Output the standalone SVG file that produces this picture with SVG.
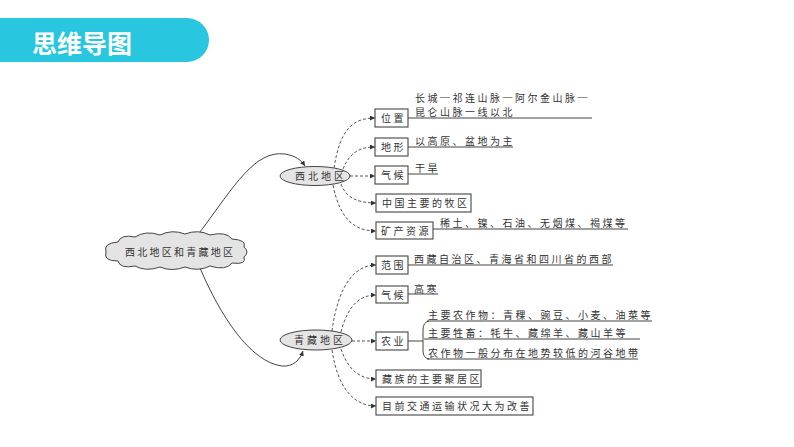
<svg xmlns="http://www.w3.org/2000/svg" width="794" height="447" viewBox="0 0 794 447">
<defs>
<style>
.t{font-family:"Noto Sans CJK SC","Noto Sans CJK TC",sans-serif;font-size:10px;fill:#333;letter-spacing:2.5px}
.box{fill:#fff;stroke:#444;stroke-width:1.1}
.ul{stroke:#444;stroke-width:1;fill:none}
.dash{stroke:#444;stroke-width:0.9;fill:none;stroke-dasharray:3 2;marker-end:url(#ah)}
.main{stroke:#444;stroke-width:1;fill:none;marker-end:url(#ah)}
.gray{fill:#e4e4e4;stroke:#444;stroke-width:1}
</style>
<marker id="ah" markerWidth="5" markerHeight="5" refX="5" refY="2.5" orient="auto" markerUnits="userSpaceOnUse">
<path d="M0,0 L5,2.5 L0,5 z" fill="#333"/>
</marker>
</defs>
<rect width="794" height="447" fill="#fff"/>
<g id="header">
<path d="M0,18 H187 A22,22 0 0 1 187,62 H0 Z" fill="#29C6E0"/>
<text x="32" y="53" font-family="'Noto Sans CJK SC',sans-serif" font-size="25" font-weight="bold" fill="#fff">思维导图</text>
</g>
<g id="connectors">
<path class="main" d="M200,232 C235,185 255,150 285,154 C296,156 301,160 305,166"/>
<path class="main" d="M200,268 C220,315 250,362 282,366 C293,367 300,360 303,351"/>
<path class="dash" d="M334,168 C340,130 352,118 375,118"/>
<path class="dash" d="M343,169 C350,152 360,147 375,147"/>
<path class="dash" d="M350,176 L375,176"/>
<path class="dash" d="M341,184 C346,198 358,203 376,203"/>
<path class="dash" d="M333,185 C340,220 355,231 376,231"/>
<path class="dash" d="M332,331 C338,285 355,265 376,265"/>
<path class="dash" d="M341,332 C348,305 360,295 376,295"/>
<path class="dash" d="M352,341 L376,341"/>
<path class="dash" d="M341,349 C348,370 360,379 376,379"/>
<path class="dash" d="M332,350 C338,390 355,406 376,406"/>
</g>
<g id="root">
<path class="gray" d="M106,252 Q103,243 118,242 Q121,234 135,237 Q146,230 160,235 Q172,229 185,234 Q198,229 210,235 Q226,231 232,239 Q247,240 244,247 Q250,252 244,257 Q247,265 232,263 Q226,271 210,266 Q198,272 185,267 Q172,272 160,267 Q146,272 135,266 Q120,269 118,261 Q103,261 106,252 Z"/>
<text class="t" x="125" y="256" style="letter-spacing:2.25px">西北地区和青藏地区</text>
</g>
<g id="xibei">
<ellipse class="gray" cx="315" cy="176" rx="35" ry="9.5"/>
<text class="t" x="295" y="180" style="letter-spacing:3px">西北地区</text>
</g>
<g id="qingzang">
<ellipse class="gray" cx="316" cy="340" rx="36" ry="10"/>
<text class="t" x="294" y="344" style="letter-spacing:3px">青藏地区</text>
</g>
<g id="weizhi">
<rect class="box" x="375" y="109" width="33" height="18"/>
<text class="t" x="381" y="122">位置</text>
<line class="ul" x1="408" y1="118" x2="592" y2="118"/>
<text class="t" x="415" y="101.5">长城─祁连山脉─阿尔金山脉─</text>
<text class="t" x="415" y="116">昆仑山脉一线以北</text>
</g>
<g id="dixing">
<rect class="box" x="375" y="138" width="33" height="18"/>
<text class="t" x="381" y="151">地形</text>
<line class="ul" x1="408" y1="147" x2="513" y2="147"/>
<text class="t" x="415" y="145">以高原、盆地为主</text>
</g>
<g id="qihou1">
<rect class="box" x="375" y="166" width="33" height="18"/>
<text class="t" x="381" y="179">气候</text>
<line class="ul" x1="408" y1="174" x2="438" y2="174"/>
<text class="t" x="415" y="172">干旱</text>
</g>
<g id="muqu">
<rect class="box" x="376" y="194" width="95" height="18"/>
<text class="t" x="382" y="207">中国主要的牧区</text>
</g>
<g id="kuangchan">
<rect class="box" x="376" y="222" width="57" height="17"/>
<text class="t" x="381" y="234.5">矿产资源</text>
<line class="ul" x1="433" y1="229" x2="628" y2="229"/>
<text class="t" x="440" y="227">稀土、镍、石油、无烟煤、褐煤等</text>
</g>
<g id="fanwei">
<rect class="box" x="376" y="256" width="32" height="18"/>
<text class="t" x="381" y="269">范围</text>
<line class="ul" x1="408" y1="265" x2="613" y2="265"/>
<text class="t" x="414" y="263">西藏自治区、青海省和四川省的西部</text>
</g>
<g id="qihou2">
<rect class="box" x="376" y="286" width="32" height="17"/>
<text class="t" x="381" y="298.5">气候</text>
<line class="ul" x1="408" y1="294" x2="438" y2="294"/>
<text class="t" x="414" y="292.5">高寒</text>
</g>
<g id="nongye">
<rect class="box" x="376" y="332" width="32" height="18"/>
<text class="t" x="381" y="345">农业</text>
<line class="ul" x1="408" y1="341" x2="423" y2="341"/>
<path class="ul" d="M429,321 Q423,322 423,330 V351 Q423,358 429,359"/>
<line class="ul" x1="427" y1="321" x2="652" y2="321"/>
<line class="ul" x1="424" y1="339" x2="640" y2="339"/>
<line class="ul" x1="427" y1="359" x2="638" y2="359"/>
<text class="t" x="428" y="318.5">主要农作物：青稞、豌豆、小麦、油菜等</text>
<text class="t" x="428" y="337">主要牲畜：牦牛、藏绵羊、藏山羊等</text>
<text class="t" x="428" y="357">农作物一般分布在地势较低的河谷地带</text>
</g>
<g id="zangzu">
<rect class="box" x="376" y="370" width="105" height="17"/>
<text class="t" x="382" y="382.5">藏族的主要聚居区</text>
</g>
<g id="jiaotong">
<rect class="box" x="376" y="397" width="157" height="18"/>
<text class="t" x="382" y="410">目前交通运输状况大为改善</text>
</g>
</svg>
